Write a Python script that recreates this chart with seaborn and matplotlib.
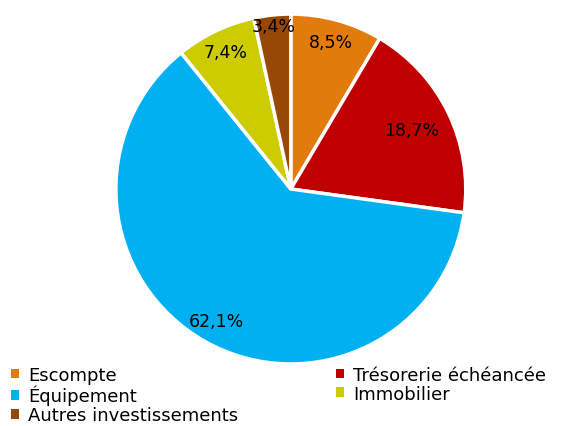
import matplotlib
matplotlib.use("Agg")
import matplotlib.pyplot as plt
import seaborn as sb
import numpy as np
from matplotlib.patches import Patch

categories = ["Escompte", "Trésorerie échéancée", "Équipement", "Immobilier", "Autres investissements"]
shares = [8.5, 18.7, 62.1, 7.4, 3.4]
colors = ["#E07B0C", "#C00000", "#00B0F0", "#CCCC00", "#974706"]
# label distance from centre (fraction of radius), like Excel's best fit
label_r = [0.87, 0.77, 0.87, 0.87, 0.94]

sb.set_style("white")
plt.rcParams["font.family"] = ["DejaVu Sans"]

fig = plt.figure(figsize=(5.68, 4.27), dpi=100)
ax = fig.add_axes([0.204, 0.145, 0.616, 0.82])

wedges, texts, autotexts = ax.pie(
    shares, colors=colors, startangle=90, counterclock=False,
    autopct=lambda p: "", wedgeprops=dict(edgecolor="white", linewidth=2.5))

for w, val, r in zip(wedges, shares, label_r):
    ang = np.deg2rad((w.theta1 + w.theta2) / 2)
    ax.text(r * np.cos(ang), r * np.sin(ang), f"{val:.1f}%".replace(".", ","),
            ha="center", va="center", fontsize=12.5, color="black")

ax.set_xlim(-1, 1)
ax.set_ylim(-1, 1)
ax.set_aspect("equal")
ax.axis("off")

handles = [Patch(facecolor=c, edgecolor="none") for c in colors]
order = [0, 2, 4, 1, 3]
fig.legend([handles[i] for i in order], [categories[i] for i in order],
           ncol=2, loc="lower left", bbox_to_anchor=(0.0, -0.021),
           frameon=False, fontsize=13, labelcolor="black",
           handlelength=0.45, handleheight=0.45,
           handletextpad=0.5, columnspacing=5.4, labelspacing=0.05,
           borderaxespad=0.2)

fig.savefig("out.png", dpi=100)
